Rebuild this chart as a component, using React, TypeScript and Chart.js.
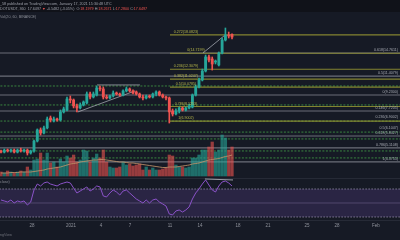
import React, { useEffect, useRef } from 'react';
import { Chart, registerables } from 'chart.js';

Chart.register(...registerables);

// ---- data ----
const tickPos = [9.4, 21.2, 30.3, 39.1, 51.2, 60.3, 71.8, 80.9, 92.7, 101.8, 113.6];
const tickLabels = ['28', '2021', '4', '7', '11', '14', '18', '21', '25', '28', 'Feb'];

const openP = [
  4.94, 4.88, 4.99, 4.94, 4.99, 4.88, 4.99, 4.94, 4.99, 4.83,
  4.94, 5.52, 6.25, 6.04, 6.39, 7.14, 6.9, 7.06, 6.98, 7.64,
  7.81, 8.83, 8.73, 8.17, 7.99, 8.26, 8.45, 9.34, 9.03, 9.23,
  9.99, 9.88, 9.03, 8.93, 9.13, 9.44, 9.34, 9.23, 9.66, 9.88,
  9.66, 9.55, 9.34, 9.03, 8.93, 9.13, 9.03, 9.34, 9.55, 9.23,
  9.03, 8.93, 7.72, 7.47, 7.72, 7.99, 7.81, 7.99, 8.07, 9.23,
  10.1, 10.92, 12.07, 14.12, 13.8, 13.35, 12.91, 14.76, 17.07, 18.05,
  18.1979,
];
const highP = [
  4.99, 5.05, 5.05, 5.05, 5.05, 5.05, 5.1, 5.05, 5.05, 4.99,
  5.58, 6.32, 6.39, 6.53, 7.22, 7.3, 7.22, 7.14, 7.81, 8.07,
  9.03, 9.13, 8.83, 8.35, 8.45, 8.64, 9.55, 9.55, 9.55, 10.21,
  10.21, 10.1, 9.23, 9.23, 9.66, 9.55, 9.44, 9.77, 10.1, 9.99,
  9.77, 9.66, 9.44, 9.23, 9.23, 9.23, 9.44, 9.66, 9.66, 9.34,
  9.13, 9.03, 7.9, 7.9, 8.07, 8.07, 8.07, 8.35, 9.34, 10.33,
  11.16, 12.34, 14.43, 14.43, 14.12, 13.65, 14.93, 17.45, 19.52, 18.66,
  18.2671,
];
const lowP = [
  4.83, 4.83, 4.88, 4.88, 4.83, 4.83, 4.88, 4.88, 4.72, 4.77,
  4.88, 5.46, 5.9, 5.97, 6.32, 6.83, 6.83, 6.9, 6.9, 7.55,
  7.72, 8.45, 7.99, 7.64, 7.9, 8.17, 8.35, 8.83, 8.93, 9.13,
  9.66, 8.83, 8.83, 8.83, 9.03, 9.23, 9.13, 9.13, 9.55, 9.55,
  9.34, 9.23, 8.93, 8.73, 8.83, 8.93, 8.93, 9.13, 9.13, 8.93,
  8.73, 6.75, 7.3, 7.38, 7.55, 7.72, 7.72, 7.9, 7.99, 9.13,
  9.99, 10.8, 11.94, 13.35, 12.2, 13.06, 12.77, 14.6, 16.88, 17.45,
  17.28,
];
const closeP = [
  4.88, 4.99, 4.94, 4.99, 4.88, 4.99, 4.94, 4.99, 4.83, 4.94,
  5.52, 6.25, 6.04, 6.39, 7.06, 6.98, 7.06, 6.98, 7.64, 7.9,
  8.83, 8.73, 8.17, 7.99, 8.26, 8.54, 9.34, 9.03, 9.34, 9.99,
  9.88, 9.03, 8.93, 9.13, 9.44, 9.34, 9.23, 9.66, 9.88, 9.66,
  9.44, 9.34, 9.03, 8.93, 9.13, 9.03, 9.34, 9.55, 9.23, 9.03,
  8.93, 7.64, 7.47, 7.72, 7.99, 7.81, 7.99, 8.17, 9.23, 10.1,
  10.92, 12.07, 14.12, 13.65, 13.06, 13.5, 14.76, 17.07, 18.05, 17.85,
  17.6497,
];
const volume = [
  4, 3, 5, 4, 3, 4, 5, 4, 9, 6,
  16, 17, 23, 16, 23, 13, 14, 9, 17, 14,
  20, 18, 21, 14, 16, 26, 25, 14, 18, 22,
  18, 26, 14, 9, 8, 8, 9, 14, 11, 12,
  10, 11, 12, 6, 9, 6, 8, 6, 6, 7,
  8, 21, 20, 11, 9, 9, 8, 9, 18, 18,
  21, 26, 26, 29, 34, 24, 26, 41, 38, 26, 29,
];
const volumeMA = [
  3, 3, 3, 3.5, 3.5, 3.5, 4, 4, 4, 4,
  4.5, 5, 5.5, 6, 7, 7.5, 8, 8.5, 9, 10,
  11, 12, 12.5, 13, 14, 14.5, 15, 15.5, 16, 16,
  16.5, 16.5, 16, 15.5, 15, 14.5, 14, 14, 13.5, 13,
  13, 12.5, 12, 11.5, 11, 10.5, 10, 9.5, 9, 8.5,
  8.5, 9, 9, 9, 9.5, 10, 10.5, 11, 12, 12.5,
  13, 14, 15, 16, 16.5, 17, 17.5, 18.5, 19.5, 20, 21,
];
const rsi = [
  54.3, 52.9, 51.4, 54.3, 50, 52.9, 51.4, 52.9, 47.1, 51.4,
  68.6, 77.1, 74.3, 78.6, 80, 77.1, 75.7, 74.3, 77.1, 78.6,
  80, 78.6, 71.4, 64.3, 67.1, 70, 72.9, 67.1, 70, 74.3,
  72.9, 60, 58.6, 64.3, 68.6, 65.7, 61.4, 67.1, 68.6, 64.3,
  60, 55.7, 52.9, 50, 54.3, 50, 54.3, 55.7, 51.4, 48.6,
  45.7, 34.3, 32.9, 38.6, 40, 37.1, 40, 44.3, 55.7, 64.3,
  70, 77.1, 82.9, 75.7, 68.6, 65.7, 74.3, 80, 81.4, 78.6, 74.3,
];

const grayLevels = [14.76, 11.41, 9.23, 7.72, 5.84, 5.11, 4.37];
const grayLabels = ['0.618(14.7611)', '0.5(11.4079)', '0(9.2300)', '0.146(7.7205)', '0.618(5.8427)', '0.786(5.1108)', '1(4.3755)'];
const greenLevels = [10.21, 8.26, 6.9, 6.1, 5.65, 4.94, 4.57];
const greenLabels = ['', '', '0.236(6.9002)', '0.5(6.1047)', '', '', ''];
const fibLevels = [18.08, 14.72, 12.31, 11.02, 10.08, 8.12, 6.9];
const fibLabels = ['0.272(18.0823)', '0(14.7199)', '0.236(12.3079)', '0.382(11.0247)', '0.5(10.0785)', '0.786(8.1253)', '1(6.9002)'];
const fibStartIdx = 51.2;

const trendLow = [{ x: 23.3, y: 7.64 }, { x: 40.6, y: 9.66 }];
const trendHigh = [{ x: 61.2, y: 14.76 }, { x: 67.9, y: 18.05 }];
const rangeTop = [{ x: 29.1, y: 10.33 }, { x: 42.1, y: 10.33 }];
const rsiDivergence = [{ x: 61.8, y: 84.3 }, { x: 70.3, y: 82.9 }];

const headerLine1 = '_58 published on TradingView.com, January 17, 2021 15:30:48 UTC';
const headerLine2: [string, boolean][] = [
  ['DOTUSDT, 360  17.6497 ', false],
  ['▼', true],
  [' -0.5482 (-3.05%)  O:', false],
  ['18.1979', true],
  [' H:', false],
  ['18.2671', true],
  [' L:', false],
  ['17.2800', true],
  [' C:', false],
  ['17.6497', true],
];
const headerLine3 = 'Vol(20, 60, BINANCE)';
const rsiTitle = 'close)';
const footer = 'TradingView';

// ---- styles ----
const X_MIN = -0.3;
const X_MAX = 120.9;
const UP = '#26a69a';
const DOWN = '#ef5350';
const FONT = '"Liberation Sans", Arial, sans-serif';

const decorPlugin = {
  id: 'decor',
  beforeDraw(chart: any) {
    const ctx = chart.ctx;
    ctx.save();
    ctx.fillStyle = '#161a25';
    ctx.fillRect(0, 0, chart.width, chart.height);
    ctx.fillStyle = '#101219';
    ctx.fillRect(0, 0, chart.width, 12);
    ctx.strokeStyle = '#262a36';
    ctx.lineWidth = 1;
    ctx.beginPath();
    ctx.moveTo(0, 178.5);
    ctx.lineTo(chart.width, 178.5);
    ctx.moveTo(0, 220.5);
    ctx.lineTo(chart.width, 220.5);
    ctx.stroke();
    ctx.restore();
  },
  afterDatasetsDraw(chart: any) {
    const ctx = chart.ctx;
    const y = chart.scales.y;
    ctx.save();
    ctx.font = `3.6px ${FONT}`;
    ctx.textBaseline = 'bottom';
    // fib labels (yellow)
    ctx.textAlign = 'center';
    ctx.fillStyle = '#b8b84a';
    fibLabels.forEach((t, i) => {
      const py = y.getPixelForValue(fibLevels[i]);
      const cx = i === 1 ? 196 : 186;
      ctx.fillText(t, cx, py - 1);
    });
    // right labels
    ctx.textAlign = 'right';
    ctx.fillStyle = '#a9acb5';
    grayLabels.forEach((t, i) => {
      const py = y.getPixelForValue(grayLevels[i]);
      ctx.fillText(t, 398, py - 1);
    });
    greenLabels.forEach((t, i) => {
      if (!t) return;
      const py = y.getPixelForValue(greenLevels[i]);
      ctx.fillText(t, 398, py - 2);
    });
    ctx.restore();
  },
  afterDraw(chart: any) {
    const ctx = chart.ctx;
    ctx.save();
    ctx.font = `3.7px ${FONT}`;
    ctx.textBaseline = 'middle';
    ctx.textAlign = 'left';
    ctx.fillStyle = '#9ea1aa';
    ctx.fillText(headerLine1, 0, 3.5);
    let x = 0;
    headerLine2.forEach(([t, red]) => {
      ctx.fillStyle = red ? '#ef5350' : '#9ea1aa';
      ctx.fillText(t, x, 8.5);
      x += ctx.measureText(t).width;
    });
    ctx.fillStyle = '#8a8d96';
    ctx.fillText(headerLine3, 0, 17);
    ctx.fillText(rsiTitle, 0, 181.5);
    ctx.textAlign = 'right';
    ctx.fillStyle = '#6f727b';
    ctx.fillText(footer, 12, 235);
    ctx.restore();
  },
};

const hLine = (level: number, from: number, color: string, width: number, dash: number[], axis = 'y', order = 15) => ({
  type: 'line' as const,
  yAxisID: axis,
  data: [{ x: from, y: level }, { x: X_MAX + 2, y: level }],
  borderColor: color,
  borderWidth: width,
  borderDash: dash,
  pointRadius: 0,
  fill: false,
  order,
});

export default function App() {
  const ref = useRef<HTMLCanvasElement | null>(null);

  useEffect(() => {
    document.body.style.margin = '0';
    document.body.style.background = '#161a25';
    const canvas = ref.current;
    if (!canvas) return;

    const idx = openP.map((_, i) => i);
    const colors = idx.map((i) => (closeP[i] >= openP[i] ? UP : DOWN));
    const volColors = idx.map((i) => (closeP[i] >= openP[i] ? 'rgba(38,166,154,0.6)' : 'rgba(239,83,80,0.6)'));

    const datasets: any[] = [
      // RSI band
      hLine(70, X_MIN - 2, 'rgba(160,150,180,0.75)', 1, [1.5, 1.5], 'yr', 20),
      {
        ...hLine(30, X_MIN - 2, 'rgba(160,150,180,0.75)', 1, [1.5, 1.5], 'yr', 20),
        fill: { value: 70 },
        backgroundColor: 'rgba(126,87,194,0.2)',
      },
      hLine(50, X_MIN - 2, 'rgba(130,120,150,0.45)', 1, [], 'yr', 20),
      // full-width gray levels
      ...grayLevels.map((l) => hLine(l, X_MIN - 2, 'rgba(178,181,190,0.55)', 1.2, [])),
      // green dotted levels
      ...greenLevels.map((l) => hLine(l, X_MIN - 2, 'rgba(67,160,71,0.8)', 1, [2, 1.5])),
      // fib (yellow) levels
      ...fibLevels.map((l) => hLine(l, fibStartIdx, 'rgba(150,150,50,0.85)', 1.2, [], 'y', 14)),
      // volume
      {
        type: 'bar',
        yAxisID: 'yv',
        data: idx.map((i) => ({ x: i, y: volume[i] })),
        backgroundColor: volColors,
        barThickness: 2.6,
        grouped: false,
        order: 12,
      },
      {
        type: 'line',
        yAxisID: 'yv',
        data: idx.map((i) => ({ x: i, y: volumeMA[i] })),
        borderColor: 'rgba(190,145,105,0.85)',
        borderWidth: 1,
        pointRadius: 0,
        tension: 0.3,
        order: 11,
      },
      // drawings
      ...[trendLow, trendHigh, rangeTop].map((d) => ({
        type: 'line',
        yAxisID: 'y',
        data: d,
        borderColor: 'rgba(170,173,182,0.75)',
        borderWidth: 1,
        pointRadius: 0,
        order: 5,
      })),
      // wicks
      {
        type: 'bar',
        yAxisID: 'y',
        data: idx.map((i) => ({ x: i, y: [lowP[i], highP[i]] })),
        backgroundColor: colors,
        barThickness: 1,
        grouped: false,
        order: 4,
      },
      // bodies
      {
        type: 'bar',
        yAxisID: 'y',
        data: idx.map((i) => ({ x: i, y: [openP[i], closeP[i]] })),
        backgroundColor: colors,
        barThickness: 2.2,
        minBarLength: 1,
        grouped: false,
        order: 3,
      },
      // RSI
      {
        type: 'line',
        yAxisID: 'yr',
        data: idx.map((i) => ({ x: i, y: rsi[i] })),
        borderColor: '#8a52c8',
        borderWidth: 1,
        pointRadius: 0,
        order: 2,
      },
      {
        type: 'line',
        yAxisID: 'yr',
        data: rsiDivergence,
        borderColor: 'rgba(190,192,200,0.8)',
        borderWidth: 1,
        pointRadius: 0,
        order: 1,
      },
    ];

    const chart = new Chart(canvas, {
      type: 'bar',
      data: { datasets },
      options: {
        responsive: false,
        animation: false,
        devicePixelRatio: 1,
        layout: { padding: 0 },
        plugins: { legend: { display: false }, tooltip: { enabled: false } },
        scales: {
          x: {
            type: 'linear',
            min: X_MIN,
            max: X_MAX,
            offset: false,
            grid: { display: false, drawTicks: false },
            border: { display: false },
            afterBuildTicks: (axis: any) => {
              axis.ticks = tickPos.map((v) => ({ value: v }));
            },
            afterFit: (axis: any) => {
              axis.height = 20;
            },
            ticks: {
              autoSkip: false,
              maxRotation: 0,
              padding: 3.5,
              color: '#8f929b',
              font: { size: 4.5, family: FONT },
              callback: (_v: any, i: number) => tickLabels[i] ?? '',
            },
          },
          y: { type: 'logarithmic', display: false, min: 2.284, max: 26.69 },
          yv: { type: 'linear', display: false, min: -44, max: 176 },
          yr: { type: 'linear', display: false, min: 25.71, max: 340 },
        },
      } as any,
      plugins: [decorPlugin],
    });
    return () => chart.destroy();
  }, []);

  return (
    <div style={{ width: 400, height: 240, background: '#161a25' }}>
      <canvas ref={ref} width={400} height={240} style={{ display: 'block' }} />
    </div>
  );
}
